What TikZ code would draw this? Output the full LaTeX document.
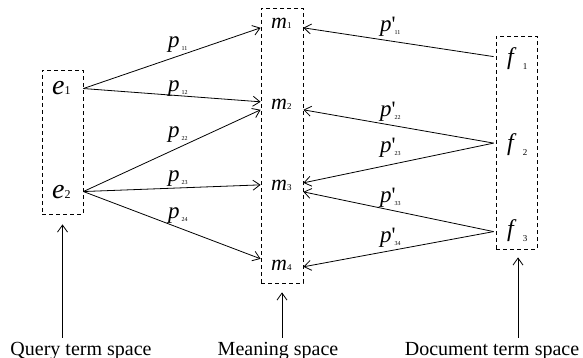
\documentclass[tikz,border=0pt]{standalone}
\usepackage{fontspec}
\setmainfont{Liberation Serif}
\newfontfamily\quotefont{Liberation Serif}[Ligatures=TeXOff]
\usepackage{tikz}
\usetikzlibrary{arrows.meta, positioning, calc}
\newcommand{\evar}[1]{{\fontsize{28}{28}\selectfont\itshape e}{\fontsize{12}{12}\selectfont #1}}
\newcommand{\mvar}[1]{{\fontsize{22}{22}\selectfont\itshape m}{\fontsize{9}{9}\selectfont #1}}
\newcommand{\fvar}[1]{{\fontsize{24}{24}\selectfont\itshape f}\hspace{9pt}\raisebox{-5pt}{\fontsize{9}{9}\selectfont #1}}
\newcommand{\pvar}[1]{{\fontsize{23}{23}\selectfont\itshape p}\hspace{2pt}\raisebox{-3pt}{\fontsize{6}{6}\selectfont #1}}
\newcommand{\ppvar}[1]{{\fontsize{23}{23}\selectfont\itshape p}\rlap{\fontsize{22}{22}\quotefont '}\hspace{3pt}\raisebox{-3pt}{\fontsize{6}{6}\selectfont #1}}
\tikzset{
  spacebox/.style={draw, dash pattern=on 4pt off 3pt, line width=0.8pt, inner sep=0pt},
  var/.style={anchor=base west, inner sep=0pt},
  plbl/.style={anchor=base west, inner sep=0pt},
  link/.style={-{Straight Barb[length=7pt, width=10pt]}, line width=0.8pt},
  spacelbl/.style={anchor=base, inner sep=0pt, font=\fontsize{20}{20}\selectfont},
}

\begin{document}
\begin{tikzpicture}[x=1pt, y=-1pt]
    \useasboundingbox (0,0) rectangle (583,358);
    % the three spaces
    \node[spacebox, minimum width=41pt, minimum height=144pt] (eBox) at (62.5,142) {};
    \node[spacebox, minimum width=42pt, minimum height=275pt] (mBox) at (282,145.5) {};
    \node[spacebox, minimum width=41pt, minimum height=213pt] (fBox) at (516.5,142.5) {};
    \node[var] (e1) at (52,95) {\evar{1}};
    \node[var] (e2) at (52,198) {\evar{2}};
    \node[var] (m1) at (271,29) {\mvar{1}};
    \node[var] (m2) at (271,110) {\mvar{2}};
    \node[var] (m3) at (271,190) {\mvar{3}};
    \node[var] (m4) at (271,270) {\mvar{4}};
    \node[var] (f1) at (507,64.5) {\fvar{1}};
    \node[var] (f2) at (507,150.5) {\fvar{2}};
    \node[var] (f3) at (507,236) {\fvar{3}};
    % query terms to meanings
    \draw[link] (eBox.east |- e1) -- ($(mBox.west |- m1)+(0,4)$);
    \draw[link] (eBox.east |- e1) -- ($(mBox.west |- m2)+(0,-3)$);
    \draw[link] (eBox.east |- e2) -- ($(mBox.west |- m2)+(0,5)$);
    \draw[link] (eBox.east |- e2) -- (mBox.west |- m3);
    \draw[link] (eBox.east |- e2) -- ($(mBox.west |- m4)+(0,-6)$);
    % document terms to meanings
    \draw[link] ($(fBox.west |- f1)+(-2,-2)$) -- ($(mBox.east |- m1)+(0,4)$);
    \draw[link] ($(fBox.west |- f2)+(-2,-1.5)$) -- ($(mBox.east |- m2)+(0,5)$);
    \draw[link] ($(fBox.west |- f2)+(-2,-1.5)$) -- ($(mBox.east |- m3)+(0,-2)$);
    \draw[link] ($(fBox.west |- f3)+(-2,1.5)$) -- ($(mBox.east |- m3)+(0,7)$);
    \draw[link] ($(fBox.west |- f3)+(-2,1.5)$) -- ($(mBox.east |- m4)+(0,2)$);
    % probabilities
    \node[plbl] (p11) at (168,48) {\pvar{11}};
    \node[plbl] (p12) at (168,92) {\pvar{12}};
    \node[plbl] (p22) at (168,138) {\pvar{22}};
    \node[plbl] (p23) at (168,182) {\pvar{23}};
    \node[plbl] (p24) at (168,218) {\pvar{24}};
    \node[plbl] (q11) at (380,32) {\ppvar{11}};
    \node[plbl] (q22) at (380,117) {\ppvar{22}};
    \node[plbl] (q23) at (380,153) {\ppvar{23}};
    \node[plbl] (q33) at (380,202) {\ppvar{33}};
    \node[plbl] (q34) at (380,242) {\ppvar{34}};
    % space names
    \node[spacelbl] (qspace) at (81,355) {Query term space};
    \node[spacelbl] (mspace) at (278,355) {Meaning space};
    \node[spacelbl] (dspace) at (492,355) {Document term space};
    \draw[link, shorten >=10pt] ($(qspace.north -| eBox.south)+(0,-4)$) -- (eBox.south);
    \draw[link, shorten >=9pt] ($(mspace.north -| mBox.south)+(0,-4)$) -- (mBox.south);
    \draw[link, shorten >=8pt] ($(dspace.north -| fBox.south)+(1.5,-4)$) -- ($(fBox.south)+(1.5,0)$);
\end{tikzpicture}
\end{document}
